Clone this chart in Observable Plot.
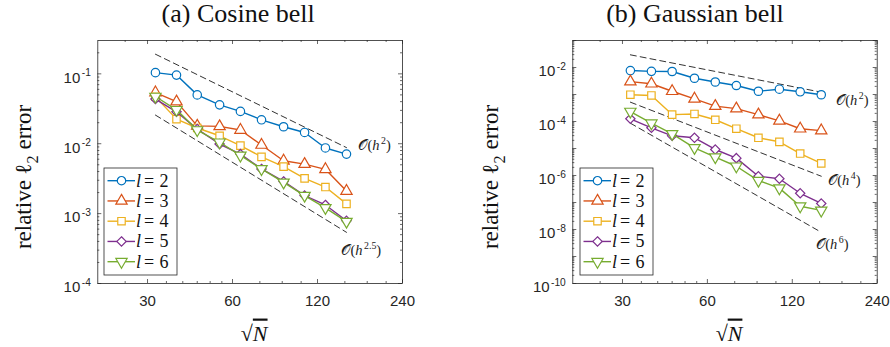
<!DOCTYPE html>
<html>
<head>
<meta charset="utf-8">
<script src="https://cdn.jsdelivr.net/npm/d3@7"></script>
<script src="https://cdn.jsdelivr.net/npm/@observablehq/plot@0.6"></script>
<style>
  body { margin: 0; background: #fff; }
  #wrap { display: flex; width: 890px; height: 347px; }
  svg { overflow: visible; }
</style>
</head>
<body>
<div id="wrap"></div>
<script>
// ---- data -------------------------------------------------------------
const sqrtN = [32, 38, 45, 54, 64, 76, 91, 108, 128, 152];
const levels = [2, 3, 4, 5, 6];

// (a) Cosine bell: relative l2 error per level
const cosineL2 = [0.104, 0.096, 0.050, 0.036, 0.029, 0.022, 0.0175, 0.0145, 0.0087, 0.0071];
const cosineL3 = [0.054, 0.040, 0.018, 0.0177, 0.0157, 0.0096, 0.0057, 0.0051, 0.0043, 0.0021];
const cosineL4 = [0.047, 0.0225, 0.0168, 0.0130, 0.0094, 0.0065, 0.0047, 0.0032, 0.0024, 0.00138];
const cosineL5 = [0.0436, 0.0286, 0.0162, 0.0099, 0.0071, 0.00436, 0.00289, 0.00181, 0.00133, 0.00079];
const cosineL6 = [0.0474, 0.0306, 0.0157, 0.0105, 0.0068, 0.00436, 0.0028, 0.00181, 0.00121, 0.00077];

// (b) Gaussian bell: relative l2 error per level
const gaussL2 = [0.0077, 0.0072, 0.0071, 0.0040, 0.0029, 0.00215, 0.00132, 0.00157, 0.00126, 0.00098];
const gaussL3 = [0.0030, 0.0025, 0.00132, 0.00069, 0.00037, 0.00030, 0.00018, 0.000106, 0.000054, 0.000046];
const gaussL4 = [0.00098, 0.00092, 0.00018, 0.00019, 0.000116, 0.000054, 0.000025, 0.0000177, 0.0000065, 0.0000028];
const gaussL5 = [0.000126, 0.0000585, 0.0000295, 0.0000249, 0.0000092, 0.0000044, 0.00000094, 0.00000076, 0.00000022, 0.000000092];
const gaussL6 = [0.000234, 0.0000865, 0.000035, 0.0000106, 0.0000048, 0.0000022, 0.00000065, 0.00000034, 0.000000073, 0.000000051];

// reference convergence slopes: endpoints at refX
const refX = [32, 152];
const cosineRefH2 = [0.191, 0.0088];
const cosineRefH25 = [0.0257, 0.00054];
const gaussRefH2 = [0.0295, 0.00122];
const gaussRefH4 = [0.00052, 0.00000094];
const gaussRefH6 = [0.0000865, 0.0000000079];

// axis ticks
const xTicks = [30, 60, 120, 240];
const xMinorTicks = [25, 35, 40, 45, 50, 55, 75, 90, 105, 150, 180, 210];
const cosineYTicks = [1e-4, 1e-3, 1e-2, 1e-1];
const gaussYTicks = [1e-10, 1e-8, 1e-6, 1e-4, 1e-2];

// ---- styling ----------------------------------------------------------
const colors = ["#0072BD", "#D95319", "#EDB120", "#7E2F8E", "#77AC30"];
const SERIF = "'Liberation Serif', 'DejaVu Serif', serif";
const SANS = "'Liberation Sans', Arial, sans-serif";
const INK = "#262626";
const sqrt3 = Math.sqrt(3);
const symbolTriangleDown = {
  draw(context, size) {
    const y = -Math.sqrt(size / (sqrt3 * 3));
    context.moveTo(0, -y * 2);
    context.lineTo(-sqrt3 * y, y);
    context.lineTo(sqrt3 * y, y);
    context.closePath();
  }
};
const symbols = [d3.symbolCircle, d3.symbolTriangle, d3.symbolSquare, d3.symbolDiamond2, symbolTriangleDown];
const R = 4.2;

function panel(o) {
  const W = 445, H = 347, MT = 40, MB = 64;
  const fw = W - o.ml - o.mr, fh = H - MT - MB;
  const decades = d3.range(o.decades[0], o.decades[1] + 1).map(e => 10 ** e);
  const yMinor = decades.flatMap(d => d3.range(2, 10).map(k => k * d))
    .filter(v => v > o.yDomain[0] && v < o.yDomain[1]);

  const ticksX = (vals, len) => [
    Plot.ruleX(vals, {x: d => d, insetTop: fh - len, stroke: INK, strokeWidth: 0.7}),
    Plot.ruleX(vals, {x: d => d, insetBottom: fh - len, stroke: INK, strokeWidth: 0.7})
  ];
  const ticksY = (vals, len) => [
    Plot.ruleY(vals, {y: d => d, insetRight: fw - len, stroke: INK, strokeWidth: 0.7}),
    Plot.ruleY(vals, {y: d => d, insetLeft: fw - len, stroke: INK, strokeWidth: 0.7})
  ];

  const seriesMarks = o.series.flatMap((ys, i) => {
    const pts = ys.map((y, j) => ({x: sqrtN[j], y}));
    return [
      Plot.line(pts, {x: "x", y: "y", stroke: colors[i], strokeWidth: 1.4}),
      Plot.dot(pts, {x: "x", y: "y", symbol: symbols[i], r: R, stroke: colors[i], fill: "white", strokeWidth: 1.2})
    ];
  });

  const refMarks = o.refs.flatMap(r => [
    Plot.line(refX.map((x, i) => ({x, y: r.y[i]})), {x: "x", y: "y", stroke: "#333", strokeWidth: 1, strokeDasharray: "6,4"}),
    Plot.text([r.label], {x: () => refX[1], y: () => r.y[1], text: d => d, textAnchor: "start",
      dx: r.dx, dy: r.dy, fontSize: 14.5, fontFamily: SERIF, fill: "#222"})
  ]);

  const svg = Plot.plot({
    width: W, height: H,
    marginTop: MT, marginBottom: MB, marginLeft: o.ml, marginRight: o.mr,
    style: {background: "white", overflow: "visible"},
    x: {type: "log", domain: [20, 240], axis: null},
    y: {type: "log", domain: o.yDomain, axis: null},
    marks: [
      ...ticksX(xTicks, 4), ...ticksX(xMinorTicks, 2),
      ...ticksY(decades.filter(v => v >= o.yDomain[0] && v <= o.yDomain[1]), 4), ...ticksY(yMinor, 2),
      ...refMarks,
      ...seriesMarks,
      Plot.frame({stroke: INK, strokeWidth: 0.8}),
      // tick labels
      Plot.text(xTicks, {x: d => d, text: d => String(d), frameAnchor: "bottom", lineAnchor: "top", dy: 12,
        fontSize: 15, fontFamily: SANS, fill: INK}),
      Plot.text(o.yLabelled, {y: d => d, text: d => `10^{${Math.round(Math.log10(d))}}`, frameAnchor: "left",
        textAnchor: "end", lineAnchor: "middle", dx: -7, dy: 4, fontSize: 15, fontFamily: SANS, fill: INK}),
      // titles and axis labels
      Plot.text([o.title], {text: d => d, frameAnchor: "top", textAnchor: "middle", lineAnchor: "middle",
        dx: o.titleDx, dy: -27, fontSize: 26, fontFamily: SERIF, fill: "#111"}),
      Plot.text(["relative ℓ_{2} error"], {text: d => d, frameAnchor: "left", textAnchor: "middle", lineAnchor: "middle",
        rotate: -90, dx: o.ylabDx, dy: 15, fontSize: 23, fontFamily: SERIF, fill: "#111"}),
      Plot.text(["√~{N}"], {text: d => d, frameAnchor: "bottom", textAnchor: "middle", lineAnchor: "middle",
        dx: 4, dy: 50, fontSize: 22, fontFamily: SERIF, fill: "#111"})
    ]
  });
  return svg;
}

function legend(svg, x0, y0) {
  const g = d3.select(svg).append("g").attr("aria-label", "legend");
  g.append("rect").attr("x", x0).attr("y", y0).attr("width", 73).attr("height", 107)
    .attr("fill", "white").attr("stroke", INK).attr("stroke-width", 0.8);
  const label = (x, y, s, italic) => g.append("text").attr("x", x).attr("y", y).attr("dy", "0.33em")
    .style("font-family", SERIF).style("font-size", "18px").style("font-style", italic ? "italic" : "normal")
    .attr("fill", "#111").text(s);
  levels.forEach((lv, i) => {
    const cy = y0 + 12.7 + i * 20.25;
    g.append("line").attr("x1", x0 + 3.5).attr("x2", x0 + 31).attr("y1", cy).attr("y2", cy)
      .attr("stroke", colors[i]).attr("stroke-width", 1.4);
    g.append("path").attr("d", d3.symbol(symbols[i], Math.PI * R * R)())
      .attr("transform", `translate(${x0 + 17.5},${cy})`)
      .attr("fill", "white").attr("stroke", colors[i]).attr("stroke-width", 1.2);
    label(x0 + 34.5, cy, "l", true);
    label(x0 + 45, cy, "=", false);
    label(x0 + 60, cy, String(lv), false);
  });
}

// turn ^{..} superscripts, _{..} subscripts, *..* italics and ~{..} overlines into tspans
function richText(svg) {
  const NS = "http://www.w3.org/2000/svg";
  svg.querySelectorAll("text").forEach(el => {
    const s = el.textContent;
    if (!/[\^_*~]/.test(s) || el.querySelector("tspan")) return;
    const fs = parseFloat(getComputedStyle(el).fontSize) || 15;
    el.textContent = "";
    let shift = 0;
    const re = /\^\{([^}]*)\}|_\{([^}]*)\}|\*([^*]*)\*|~\{([^}]*)\}|([^\^_*~]+)/g;
    for (const m of s.matchAll(re)) {
      const t = document.createElementNS(NS, "tspan");
      let target = 0, txt;
      if (m[1] != null) { txt = m[1]; target = -0.42 * fs; t.setAttribute("font-size", 0.68 * fs); t.setAttribute("dx", 0.1 * fs); }
      else if (m[2] != null) { txt = m[2]; target = 0.28 * fs; t.setAttribute("font-size", 0.7 * fs); }
      else if (m[3] != null) { txt = m[3]; t.setAttribute("font-style", "italic"); }
      else if (m[4] != null) { txt = m[4]; t.setAttribute("font-style", "italic"); t.style.textDecoration = "overline"; }
      else txt = m[5];
      if (target - shift !== 0) t.setAttribute("dy", target - shift);
      shift = target;
      t.textContent = txt;
      el.appendChild(t);
    }
  });
}

const wrap = document.getElementById("wrap");

const left = panel({
  title: "(a) Cosine bell", titleDx: -12, ylabDx: -74,
  ml: 97.3, mr: 43,
  yDomain: [1e-4, 0.3], decades: [-4, -1], yLabelled: cosineYTicks,
  series: [cosineL2, cosineL3, cosineL4, cosineL5, cosineL6],
  refs: [
    {y: cosineRefH2, label: "𝒪(*h*^{2})", dx: 12, dy: -2},
    {y: cosineRefH25, label: "𝒪(*h*^{2.5})", dx: -5, dy: 18}
  ]
});
wrap.appendChild(left);
legend(left, 104, 168);

const right = panel({
  title: "(b) Gaussian bell", titleDx: -30, ylabDx: -82,
  ml: 127.3, mr: 13.3,
  yDomain: [1e-10, 1e-1], decades: [-10, -1], yLabelled: gaussYTicks,
  series: [gaussL2, gaussL3, gaussL4, gaussL5, gaussL6],
  refs: [
    {y: gaussRefH2, label: "𝒪(*h*^{2})", dx: 15, dy: 8},
    {y: gaussRefH4, label: "𝒪(*h*^{4})", dx: 7, dy: 4},
    {y: gaussRefH6, label: "𝒪(*h*^{6})", dx: -5, dy: 12}
  ]
});
wrap.appendChild(right);
legend(right, 135, 168);

richText(left);
richText(right);
</script>
</body>
</html>
